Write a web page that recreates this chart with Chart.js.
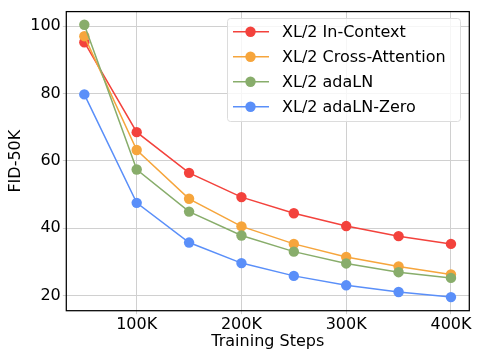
<!DOCTYPE html>
<html>
<head>
<meta charset="utf-8">
<script src="https://cdn.jsdelivr.net/npm/chart.js@4"></script>
<style>
html,body{margin:0;padding:0;background:#fff;}
#wrap{width:481px;height:357px;}
</style>
</head>
<body>
<div id="wrap"><canvas id="c" width="481" height="357"></canvas></div>
<script>
const steps = [50000, 100000, 150000, 200000, 250000, 300000, 350000, 400000];
const seriesNames = ['XL/2 In-Context', 'XL/2 Cross-Attention', 'XL/2 adaLN', 'XL/2 adaLN-Zero'];
const inContext = [95.2, 68.5, 56.4, 49.2, 44.4, 40.6, 37.6, 35.3];
const crossAttention = [97.0, 63.2, 48.7, 40.5, 35.3, 31.4, 28.6, 26.2];
const adaLN = [100.4, 57.4, 44.9, 37.8, 33.0, 29.5, 26.9, 25.2];
const adaLNZero = [79.7, 47.5, 35.7, 29.6, 25.8, 23.0, 21.0, 19.5];
const xTicks = [100000, 200000, 300000, 400000];
const yTicks = [20, 40, 60, 80, 100];
const colors = ['#f3423c', '#f6a53c', '#88ad6b', '#5a8ff9'];
const allSeries = [inContext, crossAttention, adaLN, adaLNZero];

const FONT = 'DejaVu Sans';
const GRID = '#d0d0d0';

const datasets = allSeries.map((vals, i) => ({
  label: seriesNames[i],
  data: steps.map((s, j) => ({x: s, y: vals[j]})),
  borderColor: colors[i],
  backgroundColor: colors[i],
  borderWidth: 1.5,
  pointRadius: 5.2,
  pointHoverRadius: 5.2,
  pointBorderWidth: 0,
  tension: 0,
  order: 4 - i,
  clip: false
}));

const framePlugin = {
  id: 'frame',
  afterDraw(chart) {
    const {ctx, chartArea: a} = chart;
    ctx.save();
    ctx.strokeStyle = '#000';
    ctx.lineWidth = 1.25;
    ctx.strokeRect(a.left, a.top, a.right - a.left, a.bottom - a.top);
    ctx.restore();
  }
};

const legendPlugin = {
  id: 'customLegend',
  afterDraw(chart) {
    const ctx = chart.ctx;
    const x0 = 227.5, y0 = 18.5, w = 233, h = 103, r = 3;
    ctx.save();
    ctx.beginPath();
    ctx.moveTo(x0 + r, y0);
    ctx.arcTo(x0 + w, y0, x0 + w, y0 + h, r);
    ctx.arcTo(x0 + w, y0 + h, x0, y0 + h, r);
    ctx.arcTo(x0, y0 + h, x0, y0, r);
    ctx.arcTo(x0, y0, x0 + w, y0, r);
    ctx.closePath();
    ctx.fillStyle = 'rgba(255,255,255,0.8)';
    ctx.fill();
    ctx.strokeStyle = '#dcdcdc';
    ctx.lineWidth = 1;
    ctx.stroke();
    ctx.font = '16px "' + FONT + '"';
    ctx.textBaseline = 'middle';
    chart.data.datasets.forEach((ds, i) => {
      const cy = 31.7 + i * 25;
      ctx.strokeStyle = ds.borderColor;
      ctx.lineWidth = 1.5;
      ctx.beginPath();
      ctx.moveTo(233, cy);
      ctx.lineTo(269, cy);
      ctx.stroke();
      ctx.fillStyle = ds.backgroundColor;
      ctx.beginPath();
      ctx.arc(250.5, cy, 5.2, 0, Math.PI * 2);
      ctx.fill();
      ctx.fillStyle = '#000';
      ctx.fillText(ds.label, 282, cy + 1);
    });
    ctx.restore();
  }
};

new Chart(document.getElementById('c'), {
  type: 'line',
  data: {datasets},
  options: {
    responsive: false,
    animation: false,
    devicePixelRatio: 1,
    layout: {padding: {top: 9.3, right: 11.7, left: 0, bottom: 0}},
    plugins: {legend: {display: false}, tooltip: {enabled: false}},
    scales: {
      x: {
        type: 'linear',
        min: 32800,
        max: 417500,
        afterBuildTicks: s => { s.ticks = xTicks.map(v => ({value: v})); },
        afterFit: s => { s.height = 46.3; },
        border: {display: false},
        grid: {color: GRID, lineWidth: 1, tickLength: 3.5, tickColor: GRID},
        ticks: {
          color: '#000',
          font: {family: FONT, size: 16},
          padding: 1,
          maxRotation: 0,
          callback: v => (v / 1000) + 'K'
        },
        title: {display: true, text: 'Training Steps', color: '#000', font: {family: FONT, size: 16}, padding: {top: 0, bottom: 5.1}}
      },
      y: {
        type: 'linear',
        min: 15.46,
        max: 104.3,
        afterBuildTicks: s => { s.ticks = yTicks.map(v => ({value: v})); },
        afterFit: s => { s.width = 66.3; },
        border: {display: false},
        grid: {color: GRID, lineWidth: 1, tickLength: 3.5, tickColor: GRID},
        ticks: {
          color: '#000',
          font: {family: FONT, size: 16},
          padding: 2
        },
        title: {display: true, text: 'FID-50K', color: '#000', font: {family: FONT, size: 16}, padding: {top: 6.4, bottom: 0}}
      }
    }
  },
  plugins: [framePlugin, legendPlugin]
});
</script>
</body>
</html>
